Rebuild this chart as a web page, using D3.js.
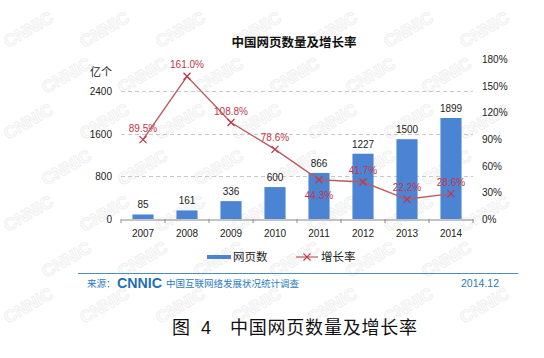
<!DOCTYPE html>
<html>
<head>
<meta charset="utf-8">
<script src="https://cdn.jsdelivr.net/npm/d3@7"></script>
<style>
  html, body { margin: 0; padding: 0; background: #fff; }
  svg { display: block; }
</style>
</head>
<body>
<svg id="chart" width="544" height="358"></svg>
<script>
// ---- data ----
const years = ["2007", "2008", "2009", "2010", "2011", "2012", "2013", "2014"];
const pages = [85, 161, 336, 600, 866, 1227, 1500, 1899];
const rates = [89.5, 161.0, 108.8, 78.6, 44.3, 41.7, 22.2, 28.6];
const leftTicks = [0, 800, 1600, 2400];
const rightTicks = [0, 30, 60, 90, 120, 150, 180];
const seriesNames = ["网页数", "增长率"];
const titleText = "中国网页数量及增长率";
const unitText = "亿个";
const sourceLabel = "来源：";
const sourceOrg = "CNNIC";
const sourceDesc = "中国互联网络发展状况统计调查";
const sourceDate = "2014.12";
const captionFig = "图";
const captionNum = "4";
const captionText = "中国网页数量及增长率";
// labels drawn below the point instead of above
const rateLabelBelow = ["2011"];

// ---- layout ----
const svg = d3.select("#chart");
const plot = { left: 121, right: 473, top: 59.4, bottom: 219 };
const blue = "#4c84d4";
const red = "#c0364a";
const lineRed = "#b85c62";
const fontLatin = "'Liberation Sans', Arial, sans-serif";
const fontCJK = "'Noto Sans CJK SC', 'Noto Sans', sans-serif";

// faint watermark, kept fully inside the picture
const wm = svg.append("g").attr("fill", "none").attr("stroke", "#efefef").attr("stroke-width", 1)
  .attr("font-family", fontLatin).attr("font-weight", "bold").attr("font-size", 17);
for (let row = 0; row < 7; row++) {
  for (let col = 0; col < 7; col++) {
    const px = col * 76 + (row % 2 ? 38 : 0) + 8;
    const py = row * 46 + 48;
    if (px + 58 > 540 || py > 352) continue;
    wm.append("text").attr("transform", `translate(${px},${py}) rotate(-30)`).text("CNNIC");
  }
}

const x = d3.scaleBand().domain(years).range([plot.left, plot.right])
  .paddingInner(0.52).paddingOuter(0.26);
const yL = d3.scaleLinear().domain([0, 3000]).range([plot.bottom, plot.top]);
const yR = d3.scaleLinear().domain([0, 180]).range([plot.bottom, plot.top]);

// gridlines
svg.append("g").selectAll("line").data(leftTicks.filter(d => d > 0)).join("line")
  .attr("x1", plot.left).attr("x2", plot.right)
  .attr("y1", d => Math.round(yL(d)) + 0.5).attr("y2", d => Math.round(yL(d)) + 0.5)
  .attr("stroke", "#c8c8c8").attr("stroke-dasharray", "4,3");

// left axis
const axL = svg.append("g").attr("transform", `translate(${plot.left},0)`)
  .call(d3.axisLeft(yL).tickValues(leftTicks).tickSize(0).tickPadding(9).tickFormat(d3.format("d")));
axL.select(".domain").remove();
axL.selectAll("text").attr("font-family", fontLatin).attr("font-size", 10).attr("fill", "#222");

// right axis
const axR = svg.append("g").attr("transform", `translate(${plot.right},0)`)
  .call(d3.axisRight(yR).tickValues(rightTicks).tickSize(0).tickPadding(9).tickFormat(d => d + "%"));
axR.select(".domain").remove();
axR.selectAll("text").attr("font-family", fontLatin).attr("font-size", 10).attr("fill", "#222");

// bars
svg.append("g").selectAll("rect").data(years).join("rect")
  .attr("x", d => x(d)).attr("width", x.bandwidth())
  .attr("y", (d, i) => yL(pages[i])).attr("height", (d, i) => plot.bottom - yL(pages[i]))
  .attr("fill", blue);

// bottom axis
const axB = svg.append("g").attr("transform", `translate(0,${plot.bottom + 0.5})`)
  .call(d3.axisBottom(x).tickSize(0).tickPadding(10));
axB.select(".domain").attr("stroke", "#8a8a8a");
axB.selectAll("text").attr("font-family", fontLatin).attr("font-size", 10).attr("fill", "#222");
const step = x.step();
svg.append("g").selectAll("line").data(d3.range(years.length + 1)).join("line")
  .attr("x1", i => plot.left + i * step).attr("x2", i => plot.left + i * step)
  .attr("y1", plot.bottom).attr("y2", plot.bottom + 4)
  .attr("stroke", "#8a8a8a");

// bar value labels
svg.append("g").selectAll("text").data(years).join("text")
  .attr("x", d => x(d) + x.bandwidth() / 2).attr("y", (d, i) => yL(pages[i]) - 6)
  .attr("text-anchor", "middle").attr("font-family", fontLatin).attr("font-size", 10).attr("fill", "#222")
  .text((d, i) => pages[i]);

// rate line
const cx = d => x(d) + x.bandwidth() / 2;
svg.append("path").datum(years)
  .attr("d", d3.line().x(d => cx(d)).y((d, i) => yR(rates[i])))
  .attr("fill", "none").attr("stroke", lineRed).attr("stroke-width", 1.4);
svg.append("g").selectAll("path").data(years).join("path")
  .attr("d", (d, i) => {
    const px = cx(d), py = yR(rates[i]), s = 3.5;
    return `M${px - s},${py - s}L${px + s},${py + s}M${px - s},${py + s}L${px + s},${py - s}`;
  })
  .attr("stroke", red).attr("stroke-width", 1.2);

svg.append("g").selectAll("text").data(years).join("text")
  .attr("x", d => cx(d))
  .attr("y", (d, i) => rateLabelBelow.includes(d) ? yR(rates[i]) + 19 : yR(rates[i]) - 8)
  .attr("text-anchor", "middle").attr("font-family", fontLatin).attr("font-size", 10).attr("fill", red)
  .text((d, i) => rates[i].toFixed(1) + "%");

// title
svg.append("text").attr("x", 294).attr("y", 47).attr("text-anchor", "middle")
  .attr("font-family", fontCJK).attr("font-weight", "bold").attr("font-size", 12.5).attr("fill", "#111")
  .text(titleText);

// unit
svg.append("text").attr("x", 112).attr("y", 76).attr("text-anchor", "end")
  .attr("font-family", fontCJK).attr("font-size", 11).attr("fill", "#222").text(unitText);

// legend
const lg = svg.append("g");
lg.append("rect").attr("x", 207).attr("y", 255).attr("width", 24).attr("height", 4).attr("fill", blue);
lg.append("text").attr("x", 233).attr("y", 261).attr("font-family", fontCJK).attr("font-size", 11.5)
  .attr("fill", "#222").text(seriesNames[0]);
lg.append("line").attr("x1", 296).attr("x2", 318).attr("y1", 257).attr("y2", 257)
  .attr("stroke", lineRed).attr("stroke-width", 1.2);
lg.append("path").attr("d", "M303.5,253.5L310.5,260.5M303.5,260.5L310.5,253.5").attr("stroke", red).attr("stroke-width", 1.1);
lg.append("text").attr("x", 321).attr("y", 261).attr("font-family", fontCJK).attr("font-size", 11.5)
  .attr("fill", "#222").text(seriesNames[1]);

// separator + source
svg.append("line").attr("x1", 78).attr("x2", 518).attr("y1", 273.5).attr("y2", 273.5)
  .attr("stroke", "#4a8cc4").attr("stroke-width", 1.2);
const srcCol = "#2c7bc0";
svg.append("text").attr("x", 87).attr("y", 287).attr("font-family", fontCJK).attr("font-size", 9.5)
  .attr("fill", srcCol).text(sourceLabel);
svg.append("text").attr("x", 117).attr("y", 288).attr("font-family", fontLatin).attr("font-weight", "bold")
  .attr("font-size", 14).attr("fill", "#1f6fb8").attr("textLength", 45).attr("lengthAdjust", "spacingAndGlyphs")
  .text(sourceOrg);
svg.append("text").attr("x", 166).attr("y", 287).attr("font-family", fontCJK).attr("font-size", 9.5)
  .attr("fill", srcCol).attr("textLength", 133).attr("lengthAdjust", "spacingAndGlyphs").text(sourceDesc);
svg.append("text").attr("x", 499).attr("y", 287).attr("text-anchor", "end").attr("font-family", fontLatin)
  .attr("font-size", 10.5).attr("fill", srcCol).text(sourceDate);

// caption
const cap = svg.append("g").attr("font-size", 18).attr("fill", "#111");
cap.append("text").attr("x", 172).attr("y", 334).attr("font-family", fontCJK).text(captionFig);
cap.append("text").attr("x", 201).attr("y", 334).attr("font-family", fontLatin).text(captionNum);
cap.append("text").attr("x", 230).attr("y", 334).attr("font-family", fontCJK)
  .attr("textLength", 187).attr("lengthAdjust", "spacing").text(captionText);
</script>
</body>
</html>
